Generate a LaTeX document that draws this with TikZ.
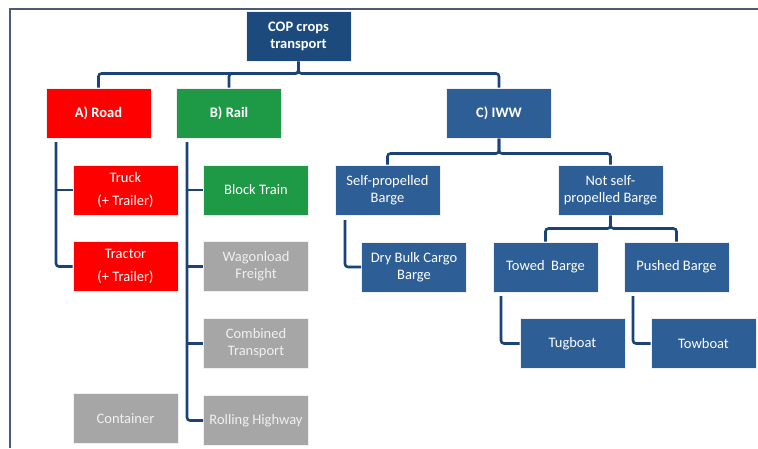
\documentclass[tikz,border=0pt]{standalone}
\usepackage{fontspec}
\setmainfont{Carlito}
\definecolor{rootblue}{HTML}{1D4A7D}
\definecolor{boxblue}{HTML}{2E5E96}
\definecolor{linkblue}{HTML}{1A4377}
\definecolor{roadred}{HTML}{FF0000}
\definecolor{railgreen}{HTML}{1E9A46}
\definecolor{boxgray}{HTML}{A6A6A6}
\definecolor{framec}{HTML}{4B5B78}
\begin{document}
\begin{tikzpicture}[x=1pt,y=-1pt,
  box/.style={rectangle, minimum width=105pt, minimum height=50pt, inner sep=1pt,
    align=center, text=white, font=\fontsize{14.5}{17}\selectfont,
    draw=black!6, line width=1pt},
  bluebox/.style={box, fill=boxblue},
  redbox/.style={box, fill=roadred},
  greenbox/.style={box, fill=railgreen},
  graybox/.style={box, fill=boxgray, text=white!94!black},
  head/.style={font=\fontsize{14.5}{17}\selectfont\bfseries},
  link/.style={draw=linkblue, line width=2.6pt, rounded corners=3pt}]
\useasboundingbox (0,0) rectangle (758,448);
\fill[white] (0,0) rectangle (758,448);
% frame
\draw[framec, line width=1.8pt] (10,448) -- (10,9) -- (758,9);

% nodes
\node[box, fill=rootblue, head] (root) at (298.5,36) {COP crops\\transport};
\node[redbox, head] (road) at (98.5,113) {A) Road};
\node[greenbox, head] (rail) at (229,113) {B) Rail};
\node[bluebox, head] (iww) at (499,113) {C) IWW};

\node[redbox] (truck) at (125.5,190) {Truck\\[6pt](+ Trailer)};
\node[redbox] (tractor) at (125.5,266.5) {Tractor\\[6pt](+ Trailer)};
\node[graybox] (container) at (125.5,418.5) {Container};

\node[greenbox] (block) at (256,190) {Block Train};
\node[graybox] (wagon) at (256,266.5) {Wagonload\\Freight};
\node[graybox] (combined) at (256,343.5) {Combined\\Transport};
\node[graybox] (rolling) at (256,420.5) {Rolling Highway};

\node[bluebox] (self) at (387.5,190) {Self-propelled\\Barge};
\node[bluebox] (notself) at (610.5,190) {Not self-\\propelled Barge};
\node[bluebox] (drybulk) at (414,267) {Dry Bulk Cargo\\Barge};
\node[bluebox] (towed) at (545.5,267) {Towed~~Barge};
\node[bluebox] (pushed) at (676.5,267) {Pushed Barge};
\node[bluebox] (tugboat) at (572.5,343.5) {Tugboat};
\node[bluebox] (towboat) at (703.5,343.5) {Towboat};

% top-level bus
\draw[link] (root.south) -- ++(0,12) -| (road.north);
\draw[link] (root.south) -- ++(0,12) -| (rail.north);
\draw[link] (root.south) -- ++(0,12) -| (iww.north);

% road branch
\coordinate (roadtop) at (56,142);
\draw[link] (roadtop) |- (tractor.west);
\draw[link] (roadtop |- truck.west) -- (truck.west);

% rail branch
\coordinate (railtop) at (187,142);
\draw[link] (railtop) |- (rolling.west);
\draw[link] (railtop |- block.west) -- (block.west);
\draw[link] (railtop |- wagon.west) -- (wagon.west);
\draw[link] (railtop |- combined.west) -- (combined.west);

% IWW bus
\draw[link] (iww.south) -- ++(0,15) -| (self.north);
\draw[link] (iww.south) -- ++(0,15) -| (notself.north);

% self-propelled
\coordinate (selftop) at (345,220);
\draw[link] (selftop) |- (drybulk.west);

% not self-propelled bus
\draw[link] (notself.south) -- ++(0,13) -| (towed.north);
\draw[link] (notself.south) -- ++(0,13) -| (pushed.north);

\coordinate (towedtop) at (501,296);
\draw[link] (towedtop) |- (tugboat.west);
\coordinate (pushedtop) at (633,296);
\draw[link] (pushedtop) |- (towboat.west);
\end{tikzpicture}
\end{document}
